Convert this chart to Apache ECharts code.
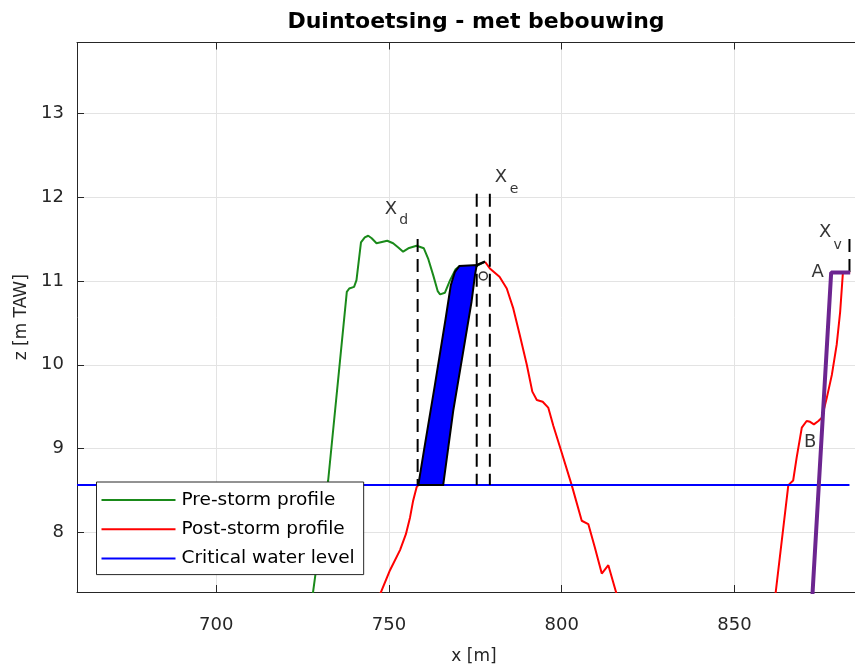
<!DOCTYPE html>
<html>
<head>
<meta charset="utf-8">
<script src="https://cdn.jsdelivr.net/npm/echarts@6/dist/echarts.min.js"></script>
<style>
  html, body { margin: 0; padding: 0; background: #ffffff; }
  #chart { width: 855px; height: 670px; }
</style>
</head>
<body>
<div id="chart"></div>
<script>
// Axis extents and tick values
const xRange = [659.7, 884.9];
const zRange = [7.29, 13.845];
const xTicks = [700, 750, 800, 850];
const zTicks = [8, 9, 10, 11, 12, 13];

// Critical water level [m TAW]
const waterLevel = 8.565;
const waterLevelExtent = [659.7, 883.3];

// Pre-storm dune profile [x, z]
const preStorm = [
  [727.9, 7.25], [732.4, 8.62], [737.8, 10.87], [738.5, 10.91], [739.9, 10.93],
  [740.6, 11.01], [741.9, 11.46], [743.0, 11.52], [744.0, 11.54], [745.0, 11.51],
  [746.4, 11.45], [749.5, 11.48], [751.2, 11.45], [752.7, 11.40], [754.1, 11.35],
  [755.6, 11.39], [758.0, 11.42], [760.1, 11.39], [761.4, 11.26], [762.8, 11.07],
  [764.1, 10.88], [764.8, 10.84], [766.2, 10.86], [767.7, 11.01], [769.3, 11.14],
  [770.6, 11.18], [775.4, 11.18], [777.8, 11.23]
];

// Post-storm profile, three visible stretches
const postStormErosion = [
  [747.3, 7.25], [750.3, 7.55], [753.2, 7.79], [754.9, 7.98], [756.1, 8.18],
  [757.0, 8.38], [758.0, 8.54], [758.5, 8.565]
];
const postStormLee = [
  [777.8, 11.23], [779.2, 11.15], [782.0, 11.05], [784.1, 10.91], [786.0, 10.67],
  [787.9, 10.35], [789.9, 10.00], [791.5, 9.68], [792.8, 9.58], [794.5, 9.56],
  [796.1, 9.49], [797.6, 9.27], [799.5, 9.02], [802.9, 8.565], [805.8, 8.14],
  [807.7, 8.10], [809.6, 7.82], [811.6, 7.51], [813.5, 7.61], [816.0, 7.25]
];
const postStormInland = [
  [861.7, 7.20], [865.6, 8.565], [867.0, 8.62], [868.0, 8.89], [869.5, 9.25],
  [870.9, 9.33], [871.9, 9.32], [873.0, 9.29], [874.3, 9.33], [875.3, 9.37],
  [876.7, 9.60], [878.2, 9.88], [879.6, 10.24], [880.6, 10.63], [881.4, 11.10],
  [883.5, 11.10]
];

// Eroded volume above the critical water level
const erosionArea = [
  [758.5, 8.565], [760.1, 8.97], [763.3, 9.76], [766.4, 10.55], [767.9, 10.95],
  [769.1, 11.11], [770.4, 11.18], [775.4, 11.19], [774.9, 11.07], [773.9, 10.75],
  [771.5, 10.16], [768.6, 9.45], [765.7, 8.565]
];
const crestEdge = [[775.4, 11.19], [777.8, 11.23]];
const crestPoint = [[777.3, 11.06]];

// Boundary line A-B towards the building
const boundaryAB = [[872.5, 7.20], [878.0, 11.10], [883.5, 11.10]];

// Characteristic positions (dashed verticals)
const lineXd = [[758.3, 11.50], [758.3, waterLevel]];
const lineXe1 = [[775.4, 12.04], [775.4, waterLevel]];
const lineXe2 = [[779.2, 12.04], [779.2, waterLevel]];
const lineXv = [[883.3, 11.50], [883.3, 11.10]];

// Annotation anchors: main letter and subscript
const markLetters = [
  { value: [750.6, 11.86], text: 'X' },
  { value: [782.4, 12.24], text: 'X' },
  { value: [876.3, 11.58], text: 'X' },
  { value: [874.1, 11.10], text: 'A' },
  { value: [871.9, 9.08], text: 'B' }
];
const markSubscripts = [
  { value: [754.3, 11.72], text: 'd' },
  { value: [786.2, 12.09], text: 'e' },
  { value: [879.9, 11.43], text: 'v' }
];

const FONT = 'DejaVu Sans';
const AXIS_COLOR = '#262626';

function dashedLine(data) {
  return {
    type: 'line', data: data, symbol: 'none', silent: true, z: 6,
    lineStyle: { color: '#000000', width: 2, type: [13, 7] }
  };
}

const chart = echarts.init(document.getElementById('chart'), null, { renderer: 'canvas' });

chart.setOption({
  animation: false,
  backgroundColor: '#ffffff',
  title: {
    text: 'Duintoetsing - met bebouwing',
    left: 471, top: 6, textAlign: 'center',
    textStyle: { fontFamily: FONT, fontSize: 22, fontWeight: 'bold', color: '#000000' }
  },
  grid: { left: 77, top: 42.5, right: 0, bottom: 75, containLabel: false },
  legend: {
    data: ['Pre-storm profile', 'Post-storm profile', 'Critical water level'],
    orient: 'vertical',
    left: 96.5, top: 482,
    padding: [8, 9, 6, 5],
    itemGap: 9.3,
    icon: 'rect',
    itemWidth: 74, itemHeight: 2,
    backgroundColor: '#ffffff',
    borderColor: '#262626', borderWidth: 1,
    textStyle: { fontFamily: FONT, fontSize: 18.5, color: '#000000', lineHeight: 20, padding: [0, 0, 0, 1] }
  },
  xAxis: [{
    type: 'value', min: xRange[0], max: xRange[1], position: 'bottom',
    name: 'x [m]', nameLocation: 'middle', nameGap: 56,
    nameTextStyle: { fontFamily: FONT, fontSize: 17, color: AXIS_COLOR, padding: [0, 0, 0, 16] },
    axisLine: { show: true, onZero: false, lineStyle: { color: AXIS_COLOR, width: 1 } },
    axisTick: { show: true, inside: true, length: 7, customValues: xTicks, lineStyle: { color: AXIS_COLOR } },
    axisLabel: { customValues: xTicks, fontFamily: FONT, fontSize: 18, color: AXIS_COLOR, margin: 24 },
    splitLine: { show: true, lineStyle: { color: '#e3e3e3', width: 1 } }
  }, {
    type: 'value', min: xRange[0], max: xRange[1], position: 'top',
    axisLine: { show: true, onZero: false, lineStyle: { color: AXIS_COLOR, width: 1 } },
    axisTick: { show: true, inside: true, length: 7, customValues: xTicks, lineStyle: { color: AXIS_COLOR } },
    axisLabel: { show: false },
    splitLine: { show: false }
  }],
  yAxis: [{
    type: 'value', min: zRange[0], max: zRange[1], position: 'left',
    name: 'z [m TAW]', nameLocation: 'middle', nameGap: 44,
    nameTextStyle: { fontFamily: FONT, fontSize: 17, color: AXIS_COLOR },
    axisLine: { show: true, onZero: false, lineStyle: { color: AXIS_COLOR, width: 1 } },
    axisTick: { show: true, inside: true, length: 7, customValues: zTicks, lineStyle: { color: AXIS_COLOR } },
    axisLabel: { customValues: zTicks, fontFamily: FONT, fontSize: 18, color: AXIS_COLOR, margin: 13, padding: [3, 0, 0, 0] },
    splitLine: { show: true, lineStyle: { color: '#e3e3e3', width: 1 } }
  }],
  series: [
    {
      name: 'Pre-storm profile', type: 'line', data: preStorm, symbol: 'none', z: 2,
      lineStyle: { color: '#1a8a1a', width: 2 }, itemStyle: { color: '#1a8a1a' }
    },
    {
      name: 'Post-storm profile', type: 'line', data: postStormErosion, symbol: 'none', z: 3,
      lineStyle: { color: '#ff0000', width: 2 }, itemStyle: { color: '#ff0000' }
    },
    {
      name: 'Post-storm profile', type: 'line', data: postStormLee, symbol: 'none', z: 3,
      lineStyle: { color: '#ff0000', width: 2 }, itemStyle: { color: '#ff0000' }
    },
    {
      name: 'Post-storm profile', type: 'line', data: postStormInland, symbol: 'none', z: 3,
      lineStyle: { color: '#ff0000', width: 2 }, itemStyle: { color: '#ff0000' }
    },
    {
      name: 'Critical water level', type: 'line', symbol: 'none', z: 3,
      data: waterLevelExtent.map(function (x) { return [x, waterLevel]; }),
      lineStyle: { color: '#0000ff', width: 2 }, itemStyle: { color: '#0000ff' }
    },
    {
      type: 'custom', z: 5, silent: true,
      data: [erosionArea[0]],
      renderItem: function (params, api) {
        return {
          type: 'polygon',
          shape: { points: erosionArea.map(function (p) { return api.coord(p); }) },
          style: { fill: '#0000ff', stroke: '#000000', lineWidth: 2 }
        };
      }
    },
    {
      type: 'line', data: crestEdge, symbol: 'none', z: 6, silent: true,
      lineStyle: { color: '#000000', width: 2.5 }
    },
    {
      type: 'scatter', data: crestPoint, symbol: 'circle', symbolSize: 8, z: 7, silent: true,
      itemStyle: { color: '#ffffff', borderColor: '#000000', borderWidth: 1.5 }
    },
    dashedLine(lineXd),
    dashedLine(lineXe1),
    dashedLine(lineXe2),
    dashedLine(lineXv),
    {
      type: 'line', data: boundaryAB, symbol: 'none', z: 7, silent: true,
      lineStyle: { color: '#6c2590', width: 4 }
    },
    {
      type: 'scatter', data: markLetters, symbolSize: 0, z: 8, silent: true,
      label: {
        show: true, position: 'inside', formatter: function (p) { return p.data.text; },
        fontFamily: FONT, fontSize: 18, color: '#000000'
      }
    },
    {
      type: 'scatter', data: markSubscripts, symbolSize: 0, z: 8, silent: true,
      label: {
        show: true, position: 'inside', formatter: function (p) { return p.data.text; },
        fontFamily: FONT, fontSize: 14, color: '#000000'
      }
    }
  ]
});
</script>
</body>
</html>
